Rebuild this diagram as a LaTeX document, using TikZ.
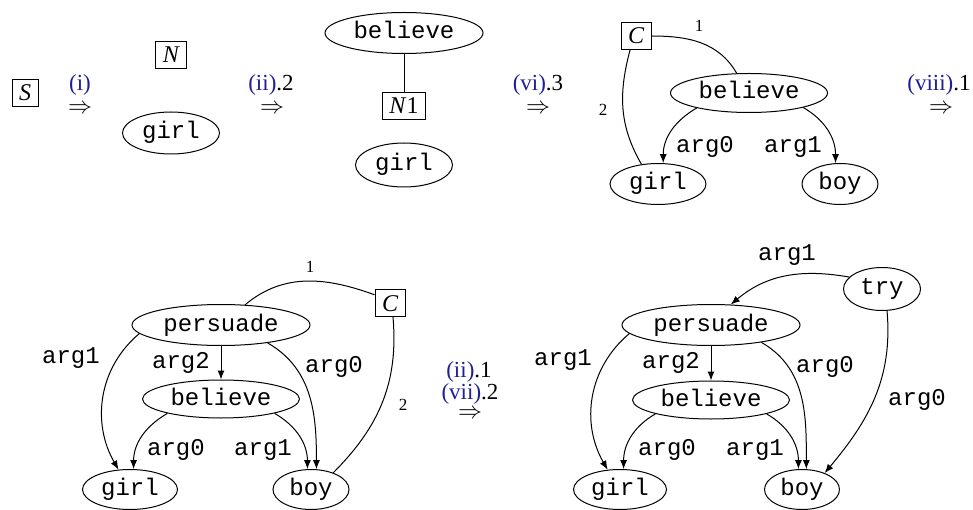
\documentclass[tikz,border=0pt]{standalone}
\usepackage{fontspec}
\setmainfont{Liberation Serif}
\newfontfamily\codefont{Liberation Mono}
\usetikzlibrary{shapes.geometric,arrows.meta}
\definecolor{ruleblue}{RGB}{30,30,150}
\newcommand{\rulename}[1]{\textcolor{ruleblue}{#1}}
\begin{document}
\begin{tikzpicture}[x=0.5pt,y=0.5pt,
  every node/.style={inner sep=0pt},
  ell/.style n args={2}{ellipse, draw, line width=0.5pt, minimum width=#1, minimum height=#2,
    font=\codefont\fontsize{12}{12}\selectfont, text height=6pt, text depth=0pt},
  var/.style={draw, line width=0.5pt, inner xsep=3.5pt, minimum height=13.5pt,
    text height=8pt, text depth=0pt, font=\fontsize{12}{12}\selectfont\itshape},
  lab/.style={font=\codefont\fontsize{12}{12}\selectfont},
  num/.style={font=\fontsize{8.5}{9}\selectfont},
  rl/.style={font=\fontsize{11.5}{12}\selectfont, text height=7.5pt, text depth=1.5pt},
  yields/.style={font=\fontsize{11.5}{12}\selectfont, text height=3.5pt, text depth=0pt},
  link/.style={line width=0.5pt},
  arc/.style={line width=0.5pt, -{Latex[length=4.5pt,width=3.5pt]}}
]
\useasboundingbox (0,0) rectangle (973,509);

% ---------- step 1: start symbol
\node[var] (S) at (25,416) {S};
\node[rl] (r1) at (80,424) {\rulename{(i)}};
\node[yields] (r1to) at (80,399) {$\Rightarrow$};

% ---------- step 2
\node[var] (N) at (171,454) {N};
\node[ell={48.5pt}{21pt}] (girlA) at (171,376) {girl};
\node[rl] (r2) at (271,424) {\rulename{(ii)}.2};
\node[yields] (r2to) at (272,399) {$\Rightarrow$};

% ---------- step 3
\node[ell={79pt}{20.5pt}] (believeB) at (404,476) {believe};
\node[var] (N1) at (404,403) {N\textup{1}};
\node[ell={48.5pt}{22pt}] (girlB) at (404,344) {girl};
\draw[link] (believeB) -- (N1);
\node[rl] (r3) at (538,424) {\rulename{(vi)}.3};
\node[yields] (r3to) at (538,399) {$\Rightarrow$};

% ---------- step 4
\node[var] (C1) at (636,473) {C};
\node[ell={78.5pt}{19.5pt}] (believeC) at (749,416) {believe};
\node[ell={48pt}{20.5pt}] (girlC) at (658,325) {girl};
\node[ell={38pt}{20.5pt}] (boyC) at (840,325) {boy};
\draw[link] (C1.east) to[out=0,in=120] (believeC.122);
\draw[link] (C1.-113) to[out=-105,in=120] (girlC.130);
\draw[arc] (believeC.196) to[out=210,in=90] (girlC.76);
\draw[arc] (believeC.-15) to[out=-30,in=90] (boyC.102);
\node[num] (c1one) at (699,483) {1};
\node[num] (c1two) at (603,399) {2};
\node[lab] (lc0) at (705,362) {arg0};
\node[lab] (lc1) at (793,362) {arg1};
\node[rl] (r4) at (939,424) {\rulename{(viii)}.1};
\node[yields] (r4to) at (941,399) {$\Rightarrow$};

% ---------- step 5
\node[ell={89pt}{20.5pt}] (persD) at (221,184) {persuade};
\node[var] (C2) at (390,206) {C};
\node[ell={78.5pt}{19pt}] (belD) at (221,110) {believe};
\node[ell={47.5pt}{20pt}] (girlD) at (130,19.5) {girl};
\node[ell={38pt}{20pt}] (boyD) at (311,19.5) {boy};
\draw[arc] (persD.186) to[out=220,in=120] (girlD.120);
\draw[arc] (persD.south) -- (belD.north);
\draw[arc] (persD.-21) to[out=-30,in=90] (boyD.75);
\draw[arc] (belD.195) to[out=210,in=90] (girlD.80);
\draw[arc] (belD.-15) to[out=-30,in=90] (boyD.100);
\draw[link] (persD.40) to[out=40,in=160] (C2.152);
\draw[link] (C2.-78) to[out=-85,in=45] (boyD.37);
\node[lab] (ld1) at (71,151) {arg1};
\node[lab] (ld2) at (181,146) {arg2};
\node[lab] (ld0) at (334,142) {arg0};
\node[num] (c2one) at (310,242) {1};
\node[num] (c2two) at (403,104) {2};
\node[lab] (ld0b) at (176,59) {arg0};
\node[lab] (ld1b) at (263,59) {arg1};
\node[rl] (r5a) at (469,138) {\rulename{(ii)}.1};
\node[rl] (r5b) at (470,116) {\rulename{(vii)}.2};
\node[yields] (r5to) at (470,94) {$\Rightarrow$};

% ---------- step 6
\node[ell={38.5pt}{21.5pt}] (tryE) at (882,220) {try};
\node[ell={89pt}{20.5pt}] (persE) at (711,184) {persuade};
\node[ell={78.5pt}{19pt}] (belE) at (711,109) {believe};
\node[ell={46.5pt}{20pt}] (girlE) at (620,19.5) {girl};
\node[ell={37.5pt}{20pt}] (boyE) at (802,19.5) {boy};
\draw[arc] (tryE.160) to[out=170,in=40] (persE.46);
\draw[arc] (tryE.-77) to[out=-85,in=50] (boyE.36);
\draw[arc] (persE.186) to[out=220,in=120] (girlE.122);
\draw[arc] (persE.south) -- (belE.north);
\draw[arc] (persE.-19) to[out=-30,in=90] (boyE.78);
\draw[arc] (belE.194) to[out=210,in=90] (girlE.80);
\draw[arc] (belE.-14) to[out=-30,in=90] (boyE.100);
\node[lab] (le1t) at (787,254) {arg1};
\node[lab] (le1) at (563,149) {arg1};
\node[lab] (le2) at (671,146) {arg2};
\node[lab] (le0) at (825,142) {arg0};
\node[lab] (le0r) at (917,109) {arg0};
\node[lab] (le0b) at (667,59) {arg0};
\node[lab] (le1b) at (755,59) {arg1};
\end{tikzpicture}
\end{document}
